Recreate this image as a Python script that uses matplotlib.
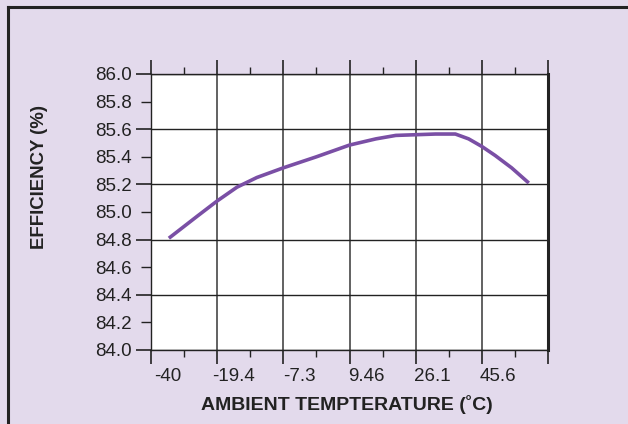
import matplotlib
matplotlib.use("Agg")
import matplotlib.pyplot as plt
from matplotlib.lines import Line2D
from matplotlib.ticker import MultipleLocator, FormatStrFormatter

# Data (x in category-slot units)
temp_labels = ["-40", "-19.4", "-7.3", "9.46", "26.1", "45.6"]
label_pos = [0.25, 1.25, 2.25, 3.25, 4.25, 5.25]
curve_pos = [0.27, 0.7, 1.0, 1.3, 1.6, 2.0, 2.5, 3.0, 3.4, 3.7, 4.0, 4.3,
             4.6, 4.8, 5.0, 5.2, 5.45, 5.71]
efficiency = [84.81, 84.97, 85.08, 85.18, 85.25, 85.32, 85.40, 85.485, 85.53,
              85.555, 85.56, 85.565, 85.565, 85.53, 85.475, 85.41, 85.32, 85.21]

bg = '#e3daec'
ink = '#222222'
purple = '#7a4fa5'

plt.rcParams['font.family'] = ['Liberation Sans', 'DejaVu Sans']

fig = plt.figure(figsize=(6.28, 4.24), dpi=100, facecolor=bg)
# frame line on left and top edge only
fx, fy = 7.5 / 628, 1 - 6.5 / 424
fig.lines.append(Line2D([fx, fx], [0, fy], transform=fig.transFigure,
                        color=ink, linewidth=2.2))
fig.lines.append(Line2D([fx, 1], [fy, fy], transform=fig.transFigure,
                        color=ink, linewidth=2.2))

ax = fig.add_axes([151 / 628, 1 - 350 / 424, 397 / 628, 276 / 424])
ax.set_facecolor('white')

ax.plot(curve_pos, efficiency, color=purple, linewidth=2.6,
        solid_capstyle='butt', zorder=3)

ax.set_xlim(0, 6)
ax.set_ylim(84.0, 86.0)

# grid / ticks
ax.set_xticks(range(7))
ax.set_xticklabels([])
ax.xaxis.set_minor_locator(MultipleLocator(0.5))
ax.yaxis.set_major_locator(MultipleLocator(0.4))
ax.yaxis.set_minor_locator(MultipleLocator(0.2))
ax.yaxis.set_major_formatter(FormatStrFormatter('%.1f'))
ax.yaxis.set_minor_formatter(FormatStrFormatter('%.1f'))
ax.grid(True, which='major', axis='y', color=ink, linewidth=1.0)
ax.grid(True, which='major', axis='x', color='#555555', linewidth=1.3)

# x labels sit a quarter slot right of the grid lines
for p, t in zip(label_pos, temp_labels):
    ax.text(p, -0.095, t, transform=ax.get_xaxis_transform(), ha='center',
            va='center', fontsize=13.5, color=ink)

ax.tick_params(axis='x', which='major', direction='out', length=10, width=1.2,
               top=True, color=ink)
ax.tick_params(axis='x', which='minor', direction='out', length=5, width=1.0,
               top=True, color=ink)
ax.tick_params(axis='y', which='major', direction='out', length=11, width=1.2,
               color=ink, labelsize=13.5, labelcolor=ink, pad=3)
ax.tick_params(axis='y', which='minor', direction='out', length=7, width=1.0,
               color=ink, labelsize=13.5, labelcolor=ink, pad=7)

for side in ['left', 'bottom', 'top']:
    ax.spines[side].set_color(ink)
    ax.spines[side].set_linewidth(1.0)
ax.spines['right'].set_color(ink)
ax.spines['right'].set_linewidth(2.2)

fig.text(347 / 628, 1 - 405 / 424, "AMBIENT TEMPTERATURE (\u02daC)",
         ha='center', va='center', fontsize=14, fontweight='bold', color=ink)
fig.text(40 / 628, 1 - 177 / 424, "EFFICIENCY (%)", rotation=90,
         ha='center', va='center', fontsize=13.4, fontweight='bold', color=ink)

fig.savefig("out.png", dpi=100, facecolor=bg)
